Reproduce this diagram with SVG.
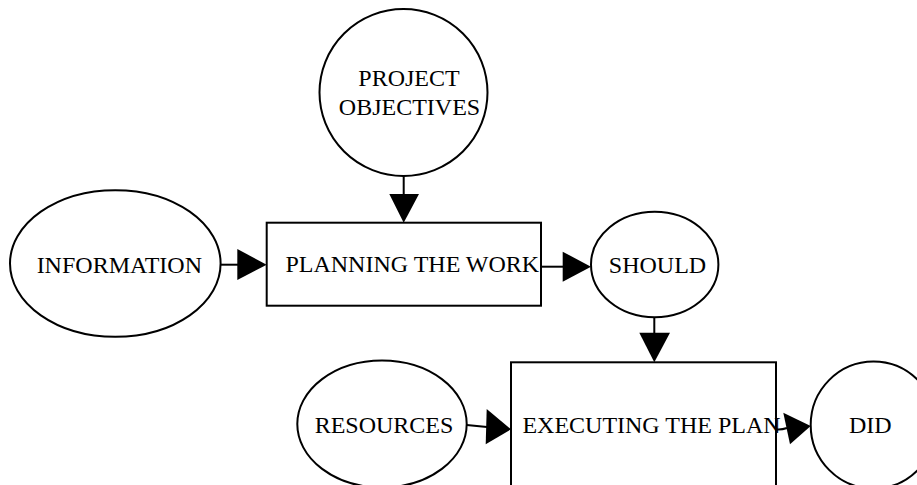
<svg xmlns="http://www.w3.org/2000/svg" width="917" height="485" viewBox="0 0 917 485">
<style>
.n{fill:#fff;stroke:#000;stroke-width:2}
.t{font-family:"Liberation Serif","Times New Roman",serif;font-size:24px;fill:#000;text-anchor:middle}
.e{stroke:#000;stroke-width:2;fill:none}
.h{fill:#000;stroke:none}
</style>
<rect width="917" height="485" fill="#fff"/>
<g id="node-objectives">
<ellipse class="n" cx="403.5" cy="92.5" rx="84" ry="83.5"/>
<text class="t" x="409" y="86">PROJECT</text>
<text class="t" x="409.5" y="115">OBJECTIVES</text>
</g>
<g id="node-information">
<ellipse class="n" cx="115.3" cy="263.5" rx="105.3" ry="73.3"/>
<text class="t" x="119.3" y="272.5">INFORMATION</text>
</g>
<g id="node-planning">
<rect class="n" x="266.7" y="222.7" width="274.3" height="83"/>
<text class="t" x="412.3" y="272">PLANNING THE WORK</text>
</g>
<g id="node-should">
<ellipse class="n" cx="654.7" cy="264.5" rx="63.7" ry="52.8"/>
<text class="t" x="657.5" y="272.7">SHOULD</text>
</g>
<g id="node-resources">
<ellipse class="n" cx="382" cy="424" rx="84.7" ry="63.5"/>
<text class="t" x="384" y="432.7">RESOURCES</text>
</g>
<g id="node-executing">
<rect class="n" x="511" y="362.3" width="265" height="140"/>
<text class="t" x="651.5" y="432.7">EXECUTING THE PLAN</text>
</g>
<g id="node-did">
<ellipse class="n" cx="873.5" cy="425" rx="62.8" ry="63.5"/>
<text class="t" x="870.3" y="432.7">DID</text>
</g>
<g id="connectors">
<line class="e" x1="403.7" y1="176" x2="403.7" y2="195"/>
<polygon class="h" points="389.3,194 419,194 403.7,222.7"/>
<line class="e" x1="220.7" y1="264.7" x2="238" y2="264.7"/>
<polygon class="h" points="237.3,249 237.3,280 266.7,264.7"/>
<line class="e" x1="541" y1="266.7" x2="563.5" y2="266.7"/>
<polygon class="h" points="562.7,251.7 562.7,281.7 591,266.7"/>
<line class="e" x1="654.3" y1="317.3" x2="654.3" y2="333.5"/>
<polygon class="h" points="639.3,332.7 670,332.7 654.3,362.3"/>
<line class="e" x1="466.7" y1="425" x2="487" y2="427"/>
<polygon class="h" points="486.7,409 485.7,444.3 511,429.3"/>
<path class="e" d="M776,429.3 Q781,430 787,428"/>
<polygon class="h" points="783.3,412.7 790,444.3 810.7,426"/>
</g>
</svg>
